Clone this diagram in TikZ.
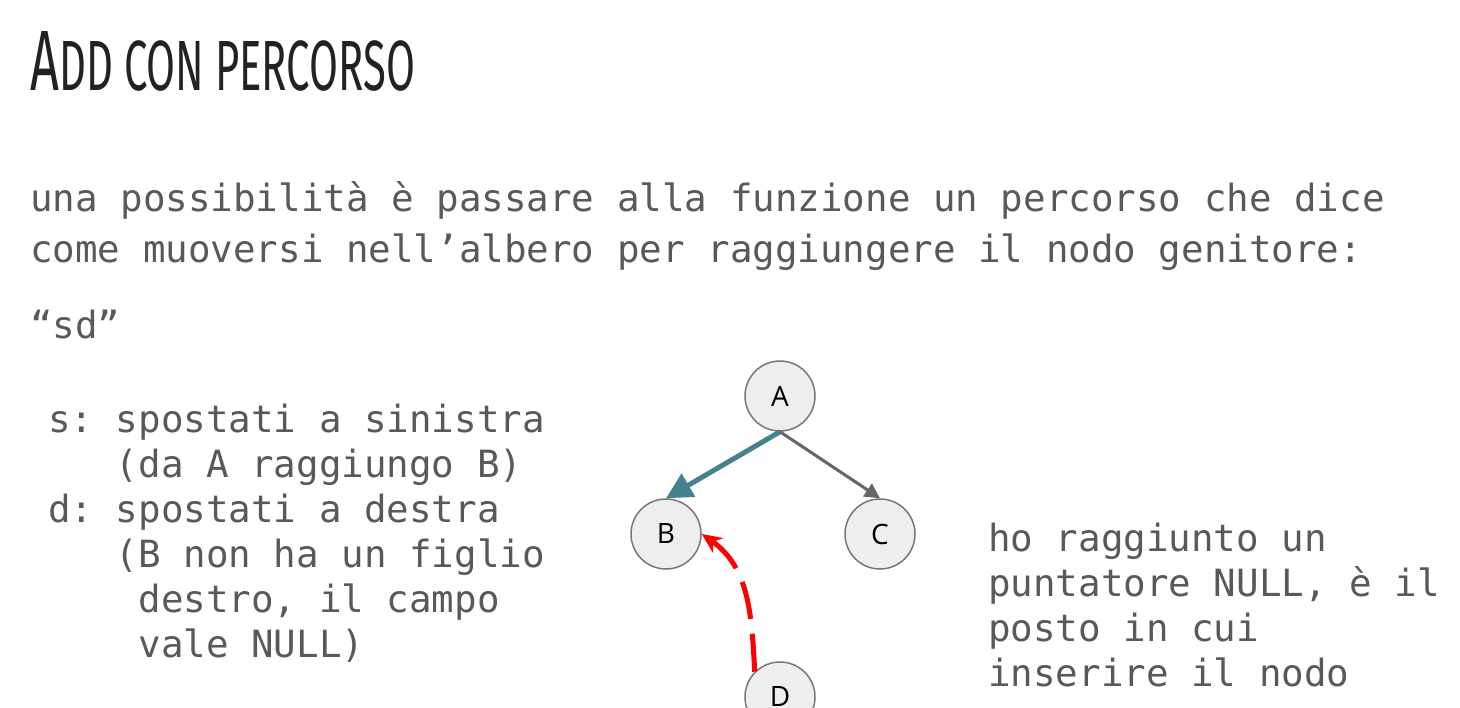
\documentclass[tikz,border=0pt]{standalone}
\usepackage{fontspec}
\setmainfont{Open Sans}
\setmonofont{DejaVu Sans Mono}
\newfontfamily\titlefont{Fira Sans}
\usetikzlibrary{arrows.meta}
\definecolor{textgray}{HTML}{595959}
\definecolor{titleblack}{HTML}{222222}
\definecolor{nodefill}{HTML}{EEEEEE}
\definecolor{nodeline}{HTML}{777777}
\definecolor{leftteal}{HTML}{45818E}
\definecolor{rightgray}{HTML}{666666}
\definecolor{pathred}{HTML}{FF0000}
\tikzset{
  treenode/.style={circle,draw=nodeline,fill=nodefill,line width=1.5pt,
    minimum size=70pt,inner sep=0pt,font=\fontsize{28}{28}\selectfont},
  bodytext/.style={anchor=base west,inner sep=0pt,align=left,text=textgray,
    font=\ttfamily\fontsize{37.5}{51}\selectfont},
  listtext/.style={bodytext,font=\ttfamily\fontsize{37.5}{45}\selectfont},
}
\begin{document}
\begin{tikzpicture}[x=1pt,y=-1pt]
\clip (0,0) rectangle (1460,708);
\useasboundingbox (0,0) rectangle (1460,708);
% title
\node [anchor=south west,inner sep=0pt,text=titleblack] (title) at (30,92)
  {\resizebox{385pt}{59pt}{\titlefont{\fontsize{59}{59}\selectfont A}{\fontsize{49}{49}\selectfont DD CON PERCORSO}}};
% testo (base = ultima riga)
\node [bodytext] (intro) at (30,263)
  {una possibilità è passare alla funzione un percorso che dice\\
   come muoversi nell’albero per raggiungere il nodo genitore:};
\node [bodytext] (path) at (30,339) {“sd”};
\node [listtext] (steps) at (48,657)
  {s: spostati a sinistra\\
   \phantom{s: }(da A raggiungo B)\\
   d: spostati a destra\\
   \phantom{s: }(B non ha un figlio\\
   \phantom{s: (}destro, il campo\\
   \phantom{s: (}vale NULL)};
\node [listtext] (note) at (988,686)
  {ho raggiunto un\\
   puntatore NULL, è il\\
   posto in cui\\
   inserire il nodo};
% albero
\node [treenode] (A) at (780,396) {A};
\node [treenode] (B) at (666,534) {B};
\node [treenode] (C) at (880,534) {C};
\node [treenode] (D) at (780,697) {D};
\draw [-{Triangle[length=26pt,width=26pt]},line width=5pt,leftteal] (A.south) -- (B.north);
\draw [-{Triangle[length=15pt,width=15pt]},line width=3pt,rightgray] (A.south) -- (C.north);
\draw [-{Stealth[length=20pt,width=18pt]},line width=5pt,pathred,dash pattern=on 38pt off 15pt]
  (D.135) to [out=93,in=-35] (B.east);
\end{tikzpicture}
\end{document}
